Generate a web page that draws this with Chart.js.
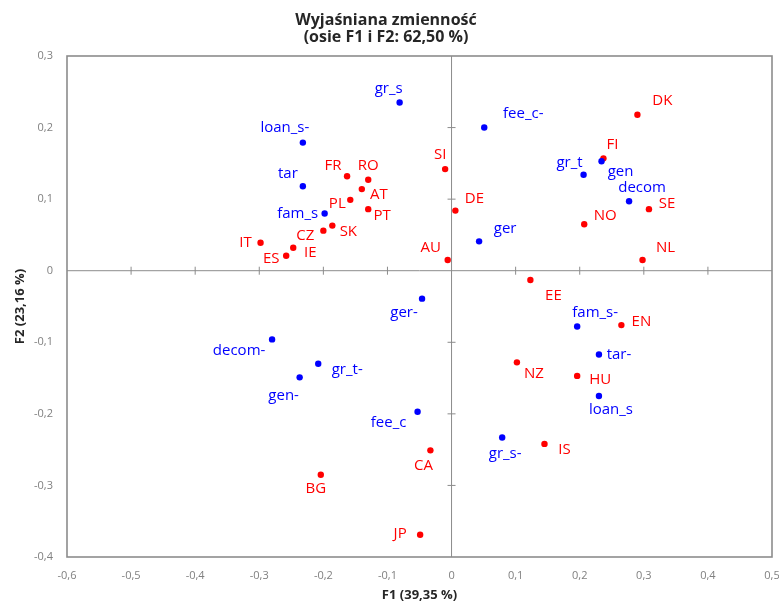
<!DOCTYPE html>
<html>
<head>
<meta charset="utf-8">
<script src="https://cdn.jsdelivr.net/npm/chart.js@4/dist/chart.umd.min.js"></script>
<style>
  html, body { margin: 0; padding: 0; background: #fff; }
</style>
</head>
<body>
<canvas id="chart" width="779" height="602"></canvas>
<script>
// variables (blue)
const varNames = ['gr_s', 'loan_s-', 'tar', 'fam_s', 'fee_c-', 'gr_t', 'gen', 'decom', 'ger',
    'ger-', 'decom-', 'gr_t-', 'gen-', 'fee_c', 'gr_s-', 'fam_s-', 'tar-', 'loan_s'];
const varF1 = [-0.081, -0.232, -0.232, -0.198, 0.051, 0.206, 0.234, 0.277, 0.043,
    -0.046, -0.280, -0.208, -0.237, -0.053, 0.079, 0.196, 0.230, 0.230];
const varF2 = [0.235, 0.179, 0.118, 0.080, 0.200, 0.134, 0.153, 0.097, 0.041,
    -0.039, -0.096, -0.130, -0.149, -0.197, -0.233, -0.078, -0.117, -0.175];

// countries (red)
const countryNames = ['FR', 'RO', 'AT', 'PL', 'PT', 'SK', 'CZ', 'IT', 'IE', 'ES', 'SI', 'DE', 'AU',
    'DK', 'FI', 'SE', 'NO', 'NL', 'EE', 'EN', 'NZ', 'HU', 'IS', 'CA', 'JP', 'BG'];
const countryF1 = [-0.163, -0.130, -0.140, -0.158, -0.130, -0.186, -0.200, -0.298, -0.247, -0.258, -0.010, 0.006, -0.006,
    0.290, 0.237, 0.308, 0.207, 0.298, 0.123, 0.265, 0.102, 0.196, 0.145, -0.033, -0.049, -0.204];
const countryF2 = [0.132, 0.127, 0.114, 0.099, 0.086, 0.063, 0.056, 0.039, 0.032, 0.021, 0.142, 0.084, 0.015,
    0.218, 0.157, 0.086, 0.065, 0.015, -0.013, -0.076, -0.128, -0.147, -0.242, -0.251, -0.369, -0.285];

// label placement next to each point (px, label centre relative to the dot)
const varLabelOffsets = [[-11, -14], [-18, -15], [-15, -13], [-27, 0], [39, -14], [-14, -12], [19, 11], [13, -14], [26, -13],
    [-18, 14], [-33, 11], [29, 6], [-16, 18], [-29, 11], [3, 16], [18, -14], [20, 0], [12, 14]];
const countryLabelOffsets = [[-14, -11], [0, -14], [17, 6], [-13, 4], [14, 7], [16, 6], [-18, 5], [-15, 0], [17, 5], [-15, 3],
    [-5, -14], [19, -12], [-17, -12], [25, -14], [9, -14], [18, -5], [21, -8], [23, -12], [23, 16], [20, -3], [17, 11],
    [23, 4], [20, 6], [-7, 15], [-20, -1], [-5, 14]];

const fmt = v => {
    const r = Math.round(v * 10) / 10;
    return r === 0 ? '0' : String(r).replace('.', ',');
};

// frame + zero lines with small cross ticks
const framePlugin = {
    id: 'frame',
    beforeDatasetsDraw(chart) {
        const { ctx, chartArea: a, scales: { x, y } } = chart;
        const x0 = x.getPixelForValue(0), y0 = y.getPixelForValue(0);
        ctx.save();
        ctx.strokeStyle = '#8c8c8c';
        ctx.lineWidth = 1;
        ctx.beginPath();
        ctx.moveTo(a.left, y0); ctx.lineTo(a.right, y0);
        ctx.moveTo(x0, a.top); ctx.lineTo(x0, a.bottom);
        x.ticks.forEach(t => {
            if (Math.abs(t.value) < 1e-9 || t.value <= x.min + 1e-9 || t.value >= x.max - 1e-9) return;
            const px = x.getPixelForValue(t.value);
            ctx.moveTo(px, y0 - 4); ctx.lineTo(px, y0 + 4);
        });
        y.ticks.forEach(t => {
            if (Math.abs(t.value) < 1e-9 || t.value <= y.min + 1e-9 || t.value >= y.max - 1e-9) return;
            const py = y.getPixelForValue(t.value);
            ctx.moveTo(x0 - 4, py); ctx.lineTo(x0 + 4, py);
        });
        ctx.stroke();
        ctx.lineWidth = 1.6;
        ctx.strokeRect(a.left, a.top, a.right - a.left, a.bottom - a.top);
        ctx.restore();
    }
};

const labelPlugin = {
    id: 'pointLabels',
    afterDatasetsDraw(chart) {
        const ctx = chart.ctx;
        ctx.save();
        ctx.font = '15px "Open Sans"';
        ctx.textAlign = 'center';
        ctx.textBaseline = 'middle';
        chart.data.datasets.forEach((ds, i) => {
            const meta = chart.getDatasetMeta(i);
            ctx.fillStyle = ds.borderColor;
            meta.data.forEach((pt, j) => {
                const off = ds.labelOffsets[j];
                ctx.fillText(ds.names[j], pt.x + off[0], pt.y + off[1]);
            });
        });
        ctx.restore();
    }
};

const ctx = document.getElementById('chart').getContext('2d');

new Chart(ctx, {
    type: 'scatter',
    data: {
        datasets: [
            {
                label: 'Zmienne',
                names: varNames,
                labelOffsets: varLabelOffsets,
                data: varF1.map((v, i) => ({ x: v, y: varF2[i] })),
                backgroundColor: '#0000ff',
                borderColor: '#0000ff',
                pointRadius: 3.2,
                pointBorderWidth: 0
            },
            {
                label: 'Kraje',
                names: countryNames,
                labelOffsets: countryLabelOffsets,
                data: countryF1.map((v, i) => ({ x: v, y: countryF2[i] })),
                backgroundColor: '#ff0000',
                borderColor: '#ff0000',
                pointRadius: 3.2,
                pointBorderWidth: 0
            }
        ]
    },
    options: {
        responsive: false,
        animation: false,
        layout: { padding: { left: 0, right: 7, top: 0, bottom: 0 } },
        scales: {
            x: {
                min: -0.6,
                max: 0.5,
                grid: { display: false, drawTicks: false },
                border: { display: false },
                ticks: { stepSize: 0.1, padding: 12, color: '#808080', font: { family: 'Open Sans', size: 11 }, callback: fmt },
                title: { display: true, text: 'F1 (39,35 %)', color: '#262626', padding: 0,
                    font: { family: 'Open Sans', size: 13, weight: 'bold', lineHeight: 1 } },
                afterFit: s => { s.height = 45; s.paddingLeft = 0; s.paddingRight = 0; }
            },
            y: {
                min: -0.4,
                max: 0.3,
                grid: { display: false, drawTicks: false },
                border: { display: false },
                ticks: { stepSize: 0.1, padding: 14, color: '#808080', font: { family: 'Open Sans', size: 11 }, callback: fmt },
                title: { display: true, text: 'F2 (23,16 %)', color: '#262626', padding: { top: 12, bottom: 0 },
                    font: { family: 'Open Sans', size: 13, weight: 'bold', lineHeight: 1.2 } },
                afterFit: s => { s.width = 67; s.paddingTop = 0; s.paddingBottom = 0; }
            }
        },
        plugins: {
            legend: { display: false },
            tooltip: { enabled: false },
            title: {
                display: true,
                text: ['Wyjaśniana zmienność', '(osie F1 i F2: 62,50 %)'],
                color: '#262626',
                font: { family: 'Open Sans', size: 16, weight: 'bold', lineHeight: 1.0625 },
                padding: { top: 11.5, bottom: 10.5 }
            }
        }
    },
    plugins: [framePlugin, labelPlugin]
});
</script>
</body>
</html>
